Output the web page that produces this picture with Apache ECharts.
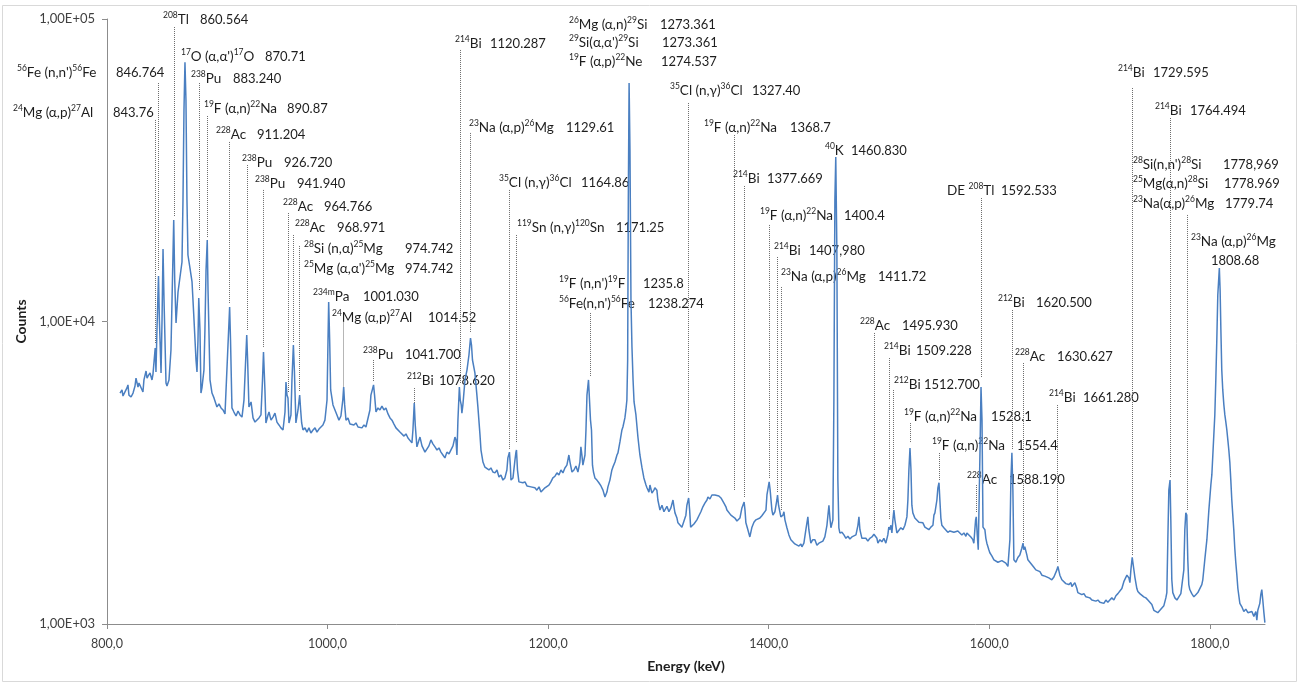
<!DOCTYPE html>
<html>
<head>
<meta charset="utf-8">
<title>Gamma spectrum</title>
<script src="https://cdn.jsdelivr.net/npm/echarts@6/dist/echarts.min.js"></script>
<style>
  html, body { margin: 0; padding: 0; background: #ffffff; }
  #chart { width: 1300px; height: 684px; }
</style>
</head>
<body>
<div id="chart"></div>
<script>
// Measured spectrum: [energy (keV), counts]
const spectrum = [
  [811.8,5800],[813.6,5940],[814.5,5670],[816.3,5850],[818.1,6030],[819.0,6170],[819.9,5710],[821.8,5630],[823.6,5800],[825.4,6120],
  [826.3,6500],[828.1,6070],[829.0,6260],[830.8,6310],[832.6,5850],[833.5,6410],[835.4,6860],[836.3,6500],[837.2,6600],[839.0,6760],
  [840.8,6410],[841.7,6700],[843.7,8170],[844.4,6810],[845.3,9370],[846.7,14140],[847.5,10120],[849.0,6760],[849.9,10120],[850.8,17370],
  [851.7,11780],[853.5,6260],[854.4,6120],[856.2,6410],[858.0,8050],[860.5,21660],[861.4,13720],[862.6,9890],[864.4,12520],[866.2,14030],
  [868.0,15730],[868.9,25220],[869.8,50030],[870.7,72000],[871.6,54000],[872.5,25220],[873.4,16590],[875.2,15030],[877.1,13510],[878.9,10120],
  [880.7,7460],[881.6,6810],[882.5,8690],[883.2,11960],[884.3,9370],[885.2,5800],[886.1,6030],[887.9,6910],[888.8,9370],[889.8,14800],
  [890.9,18600],[891.6,12710],[893.4,6410],[895.2,5800],[897.0,5590],[899.7,5220],[901.5,5340],[903.4,5180],[905.2,5100],[907.0,4950],
  [908.8,5020],[911.2,11170],[912.0,8690],[913.3,5180],[915.1,5020],[917.0,4870],[918.8,5060],[920.6,4910],[922.4,4830],[924.2,5500],
  [926.7,9020],[927.5,7460],[928.7,5220],[930.6,5420],[932.4,4800],[934.2,4650],[936.0,4620],[937.8,4800],[939.6,4910],[941.0,6410],
  [941.9,7930],[943.2,5940],[944.1,4620],[946.0,4910],[946.9,5020],[948.7,4720],[950.5,4830],[952.3,4980],[954.1,4650],[955.9,4550],
  [957.7,4450],[959.6,4380],[961.4,5020],[962.3,6310],[963.2,5710],[964.1,5590],[965.0,4620],[966.8,4910],[967.7,6410],[969.0,8360],
  [969.9,6910],[971.3,4620],[973.2,5100],[974.7,5710],[975.6,5100],[976.5,4620],[977.7,4380],[979.5,4450],[981.3,4310],[983.1,4450],
  [984.9,4280],[986.8,4380],[988.6,4450],[990.4,4310],[992.2,4410],[994.0,4450],[995.8,4550],[997.6,4720],[999.5,5500],[1000.4,8690],
  [1001.0,11600],[1001.9,8690],[1002.8,5940],[1004.9,5300],[1006.7,5100],[1008.5,4910],[1010.3,4720],[1012.1,4870],[1013.8,5500],[1014.6,6070],
  [1015.5,5300],[1016.7,4720],[1018.5,4800],[1020.3,4580],[1022.1,4650],[1023.9,4550],[1025.7,4620],[1027.6,4480],[1029.4,4510],[1031.2,4450],
  [1033.0,4550],[1034.8,4480],[1036.6,4450],[1038.4,5100],[1039.3,5710],[1041.7,6170],[1042.6,5710],[1043.9,5020],[1045.7,5180],[1047.5,5100],
  [1049.3,5250],[1051.1,5100],[1052.9,5180],[1054.8,4950],[1056.6,4800],[1058.4,4720],[1060.2,4580],[1062.0,4450],[1063.8,4450],[1065.6,4310],
  [1067.4,4280],[1069.3,4180],[1071.1,4250],[1072.9,4120],[1074.7,4060],[1076.5,3970],[1077.4,4380],[1078.6,5380],[1079.5,4550],[1081.0,3850],
  [1082.9,4060],[1083.8,4150],[1085.6,3880],[1086.5,3820],[1088.3,3700],[1090.1,3680],[1091.9,3880],[1093.7,4060],[1095.5,3940],[1097.4,3850],
  [1099.2,3760],[1101.0,3820],[1102.8,3700],[1104.6,3620],[1106.4,3540],[1108.2,3700],[1110.1,3650],[1111.9,3700],[1113.7,3880],[1115.5,4150],
  [1116.4,4060],[1117.3,3620],[1118.2,4720],[1119.5,6070],[1120.3,5500],[1121.2,5300],[1121.8,4980],[1122.7,5300],[1124.6,6410],[1126.4,6910],
  [1128.2,7750],[1129.6,8820],[1130.5,8360],[1131.4,7460],[1133.6,6760],[1135.4,5710],[1136.3,5220],[1138.2,4220],[1139.1,3760],[1140.9,3430],
  [1142.7,3300],[1144.5,3350],[1146.3,3230],[1148.1,3280],[1149.9,3180],[1151.8,3160],[1153.6,3230],[1155.4,3060],[1157.2,3110],[1159.0,2990],
  [1160.8,3040],[1162.6,3230],[1163.5,3540],[1164.9,3700],[1165.7,3350],[1166.3,2990],[1167.2,2950],[1168.1,3040],[1169.9,3480],[1170.8,3700],
  [1171.3,3760],[1172.2,3230],[1173.5,2950],[1175.3,2990],[1177.1,2930],[1179.0,2950],[1180.8,2860],[1182.6,2900],[1184.4,2840],[1186.2,2880],
  [1188.0,2820],[1189.8,2770],[1191.7,2840],[1193.5,2730],[1195.3,2770],[1197.1,2820],[1198.9,2860],[1200.7,2880],[1202.5,2950],[1204.3,3040],
  [1206.2,3080],[1208.0,3160],[1209.8,3110],[1211.6,3230],[1213.4,3160],[1215.2,3280],[1217.0,3350],[1217.9,3480],[1218.8,3620],[1219.8,3430],
  [1221.6,3180],[1223.4,3230],[1225.2,3330],[1227.0,3180],[1228.8,3430],[1229.7,3850],[1230.6,3620],[1231.5,3350],[1233.4,3620],[1234.3,4380],
  [1235.2,5710],[1236.6,6410],[1237.5,5500],[1238.4,4720],[1239.3,4380],[1240.2,3350],[1241.1,3180],[1242.4,3040],[1244.2,2990],[1246.0,2930],
  [1247.9,2860],[1249.7,2770],[1251.5,2630],[1253.3,2730],[1254.2,2840],[1256.0,2990],[1257.8,3230],[1258.7,3300],[1260.6,3430],[1262.4,3620],
  [1263.3,3680],[1265.1,4000],[1266.9,4380],[1267.8,4480],[1269.6,4800],[1270.5,5100],[1271.4,5500],[1272.1,7460],[1272.7,25220],[1273.4,61400],
  [1274.2,36900],[1275.1,11780],[1276.0,8240],[1277.0,6410],[1277.9,5420],[1279.6,4910],[1281.4,4150],[1283.2,3620],[1285.0,3300],[1286.8,3040],
  [1288.7,2880],[1289.6,2820],[1291.4,2730],[1292.3,2880],[1294.1,2710],[1295.9,2770],[1296.8,2820],[1298.6,2770],[1299.5,2570],[1301.4,2380],
  [1303.2,2470],[1305.0,2350],[1305.9,2380],[1307.7,2450],[1309.5,2350],[1311.3,2420],[1313.2,2570],[1314.1,2440],[1315.0,2330],[1316.8,2240],
  [1317.7,2160],[1319.5,2170],[1321.3,2090],[1323.1,2120],[1324.9,2290],[1325.8,2470],[1327.4,2610],[1328.3,2380],[1329.2,2090],[1330.4,2090],
  [1332.2,2140],[1334.0,2170],[1334.9,2210],[1336.7,2280],[1338.5,2350],[1340.3,2440],[1342.1,2510],[1344.0,2570],[1344.9,2630],[1346.7,2590],
  [1348.5,2670],[1350.3,2630],[1351.2,2670],[1353.0,2690],[1354.8,2650],[1356.7,2610],[1357.6,2630],[1359.4,2510],[1361.2,2440],[1362.1,2380],
  [1363.9,2350],[1365.7,2290],[1367.5,2260],[1369.3,2240],[1371.2,2190],[1372.1,2210],[1373.9,2240],[1375.7,2420],[1377.7,2530],[1378.5,2380],
  [1379.3,2160],[1381.1,2050],[1382.9,1940],[1384.8,2090],[1386.6,2170],[1388.4,2210],[1390.2,2240],[1392.0,2240],[1393.8,2280],[1395.6,2310],
  [1397.5,2380],[1398.4,2670],[1400.4,2950],[1401.3,2770],[1402.9,2380],[1403.8,2290],[1405.6,2350],[1407.4,2570],[1408.0,2670],[1408.9,2470],
  [1411.0,2260],[1412.9,2290],[1413.8,2350],[1414.7,2210],[1416.5,2080],[1418.3,1970],[1420.1,1900],[1421.9,1880],[1423.7,1840],[1425.5,1850],
  [1427.4,1810],[1429.2,1840],[1430.1,1800],[1431.9,1850],[1433.7,2050],[1435.5,2260],[1436.4,2050],[1438.2,1850],[1440.0,1900],[1441.9,1900],
  [1443.7,1820],[1445.5,1850],[1447.3,1840],[1449.1,1880],[1450.9,1940],[1452.8,2120],[1454.6,2470],[1455.5,2240],[1456.4,2080],[1458.2,2210],
  [1459.1,5500],[1460.0,25220],[1460.8,35000],[1461.8,17240],[1462.7,2990],[1463.6,2080],[1464.5,2000],[1466.4,2010],[1468.2,1970],[1470.0,1920],
  [1471.8,1950],[1473.6,1910],[1475.4,1940],[1477.2,1920],[1479.1,1970],[1480.9,2120],[1481.8,2260],[1482.7,2050],[1484.5,1920],[1486.3,1900],
  [1488.1,1920],[1489.9,1880],[1491.7,1920],[1493.6,1940],[1495.4,1980],[1496.3,2000],[1498.1,1920],[1499.0,1850],[1500.8,1900],[1502.6,1870],
  [1504.4,1920],[1506.2,1850],[1508.0,1970],[1508.9,2090],[1509.9,2050],[1510.8,2120],[1511.7,2000],[1512.6,2210],[1513.5,2380],[1514.4,2210],
  [1516.2,2000],[1518.0,2010],[1519.8,2080],[1521.7,2050],[1523.5,2120],[1525.3,2260],[1526.2,2570],[1527.1,3230],[1528.1,3820],[1529.0,3230],
  [1529.8,2470],[1530.7,2330],[1532.5,2240],[1534.3,2210],[1536.2,2170],[1538.0,2140],[1539.8,2160],[1541.6,2090],[1543.4,2080],[1545.2,2050],
  [1547.0,2090],[1548.9,2120],[1549.8,2290],[1550.7,2330],[1552.5,2570],[1553.4,2820],[1554.4,2930],[1555.2,2570],[1556.1,2240],[1557.0,2120],
  [1558.8,2080],[1560.6,2050],[1562.4,2010],[1564.3,2030],[1566.1,2000],[1567.9,2010],[1569.7,1980],[1571.5,2030],[1573.3,2010],[1575.1,1970],
  [1577.0,2000],[1578.8,1950],[1579.7,2000],[1581.5,1970],[1583.3,1940],[1585.1,1900],[1586.0,1850],[1586.9,2050],[1587.6,2210],[1588.2,2260],
  [1589.1,1970],[1590.0,1760],[1591.6,3760],[1592.5,6070],[1593.4,4720],[1594.3,2090],[1596.0,2050],[1596.9,1920],[1597.8,1850],[1599.6,1760],
  [1600.5,1720],[1602.3,1680],[1604.2,1630],[1606.0,1650],[1607.8,1600],[1609.6,1590],[1611.4,1620],[1613.2,1630],[1615.0,1590],[1616.9,1550],
  [1617.8,1540],[1618.7,1900],[1619.6,2990],[1620.5,3680],[1621.4,2770],[1622.3,1630],[1624.1,1600],[1625.9,1660],[1627.7,1690],[1629.5,1780],
  [1630.6,1850],[1631.3,1760],[1632.2,1800],[1634.1,1690],[1635.0,1630],[1636.8,1600],[1638.6,1570],[1640.4,1540],[1642.2,1510],[1644.0,1510],
  [1645.9,1490],[1647.7,1450],[1648.6,1470],[1650.4,1440],[1652.2,1460],[1654.0,1420],[1654.9,1420],[1656.7,1400],[1658.6,1430],[1659.5,1430],
  [1661.3,1510],[1662.2,1550],[1664.0,1450],[1665.8,1400],[1667.6,1390],[1669.4,1360],[1670.3,1380],[1672.1,1350],[1674.0,1370],[1674.9,1330],
  [1676.7,1350],[1677.6,1370],[1679.4,1310],[1680.3,1270],[1682.1,1270],[1683.9,1250],[1685.8,1260],[1687.6,1230],[1689.4,1240],[1691.2,1220],
  [1693.0,1200],[1694.8,1210],[1696.6,1190],[1698.5,1200],[1700.3,1180],[1702.1,1190],[1703.9,1170],[1705.7,1200],[1707.5,1180],[1709.3,1200],
  [1711.1,1220],[1713.0,1200],[1714.8,1240],[1716.6,1260],[1718.4,1270],[1720.2,1310],[1722.0,1380],[1722.9,1400],[1724.8,1450],[1725.7,1470],
  [1726.6,1420],[1727.5,1370],[1728.4,1510],[1729.6,1660],[1730.5,1570],[1732.0,1430],[1733.8,1310],[1734.7,1280],[1736.5,1260],[1738.3,1250],
  [1740.1,1230],[1742.0,1220],[1743.8,1200],[1745.6,1200],[1747.4,1160],[1749.2,1110],[1751.0,1100],[1752.8,1090],[1754.7,1110],[1756.5,1130],
  [1758.3,1150],[1760.1,1220],[1761.0,1270],[1761.9,1900],[1762.8,2770],[1763.9,2990],[1764.6,2210],[1765.5,1400],[1766.4,1270],[1768.3,1220],
  [1770.1,1200],[1771.9,1230],[1773.7,1260],[1774.6,1270],[1776.4,1510],[1777.3,2050],[1778.2,2330],[1779.1,2290],[1780.0,1630],[1780.9,1350],
  [1781.8,1300],[1783.6,1260],[1785.5,1230],[1787.3,1250],[1789.1,1270],[1790.9,1280],[1792.7,1350],[1793.6,1400],[1795.4,1630],[1797.3,1900],
  [1799.1,2380],[1800.9,2880],[1801.8,3110],[1802.7,3620],[1803.6,4220],[1804.5,4910],[1805.4,6410],[1806.3,8690],[1807.2,12230],[1808.6,15030],
  [1809.3,12710],[1810.0,9370],[1810.8,6910],[1811.7,5940],[1812.7,5300],[1813.6,4910],[1814.5,4650],[1815.4,4380],[1816.3,4060],[1817.2,3760],
  [1818.1,3430],[1819.0,2990],[1819.9,2570],[1820.8,2290],[1821.7,2050],[1822.6,1780],[1823.5,1600],[1824.5,1450],[1825.4,1310],[1827.2,1170],
  [1829.0,1140],[1830.8,1100],[1832.6,1120],[1834.5,1090],[1836.3,1090],[1838.1,1100],[1839.9,1060],[1841.7,1100],[1842.6,1030],[1843.5,1110],
  [1845.3,1170],[1846.2,1250],[1847.1,1300],[1848.0,1200],[1849.0,1090],[1849.9,1010]
];

const xTicks = [800, 1000, 1200, 1400, 1600, 1800];

// Identified gamma lines: name (^...^ marks a superscript) and energy label (keV)
const lineNames = [
  '^24^Mg (α,p)^27^Al', "^56^Fe (n,n')^56^Fe", '^208^Tl', "^17^O (α,α')^17^O", '^238^Pu',
  '^19^F (α,n)^22^Na', '^228^Ac', '^238^Pu', '^238^Pu', '^228^Ac',
  '^228^Ac', '^28^Si (n,α)^25^Mg', "^25^Mg (α,α')^25^Mg", '^234m^Pa', '^24^Mg (α,p)^27^Al',
  '^238^Pu', '^212^Bi', '^214^Bi', '^23^Na (α,p)^26^Mg', '^35^Cl (n,γ)^36^Cl',
  '^119^Sn (n,γ)^120^Sn', "^19^F (n,n')^19^F", "^56^Fe(n,n')^56^Fe", '^26^Mg (α,n)^29^Si', "^29^Si(α,α')^29^Si",
  '^19^F (α,p)^22^Ne', '^35^Cl (n,γ)^36^Cl', '^19^F (α,n)^22^Na', '^214^Bi', '^40^K',
  '^19^F (α,n)^22^Na', '^214^Bi', '^23^Na (α,p)^26^Mg', '^228^Ac', '^214^Bi',
  '^212^Bi', '^19^F (α,n)^22^Na', '^19^F (α,n)^22^Na', '^228^Ac', 'DE ^208^Tl',
  '^212^Bi', '^228^Ac', '^214^Bi', '^214^Bi', '^214^Bi',
  "^28^Si(n,n')^28^Si", '^25^Mg(α,n)^28^Si', '^23^Na(α,p)^26^Mg', '^23^Na (α,p)^26^Mg'
];
const lineEnergies = [
  '843.76', '846.764', '860.564', '870.71', '883.240',
  '890.87', '911.204', '926.720', '941.940', '964.766',
  '968.971', '974.742', '974.742', '1001.030', '1014.52',
  '1041.700', '1078.620', '1120.287', '1129.61', '1164.86',
  '1171.25', '1235.8', '1238.274', '1273.361', '1273.361',
  '1274.537', '1327.40', '1368.7', '1377.669', '1460.830',
  '1400.4', '1407,980', '1411.72', '1495.930', '1509.228',
  '1512.700', '1528.1', '1554.4', '1588.190', '1592.533',
  '1620.500', '1630.627', '1661.280', '1729.595', '1764.494',
  '1778,969', '1778.969', '1779.74', '1808.68'
];

// Label placement in axis units: [name keV, name counts, number keV, number counts]
const labelAt = [
  [714.8,48920,805.4,48920],[718.4,66300,808.2,66300],[850.8,99240,884.3,99240],[867.1,74880,943.2,74880],[876.2,63330,914.2,63330],
  [887.9,50410,963.2,50410],[898.8,41350,936.0,41350],[922.4,33410,960.5,33410],[934.2,28480,972.3,28480],[959.6,23900,996.7,23900],
  [970.4,20380,1008.5,20380],[978.6,17370,1070.2,17370],[978.6,14920,1070.2,14920],[986.8,12050,1032.1,12050],[1004.0,10270,1091.0,10270],
  [1032.1,7749,1070.2,7749],[1072.0,6359,1101.0,6359],[1115.5,82670,1147.2,82670],[1128.2,43620,1216.1,43620],[1155.4,28710,1229.7,28710],
  [1171.7,20380,1261.5,20380],[1209.8,13300,1285.9,13300],[1209.8,11420,1290.5,11420],[1218.8,95540,1301.4,95540],[1218.8,83300,1303.2,83300],
  [1218.8,72090,1302.3,72090],[1310.4,57810,1384.8,57810],[1341.2,43620,1419.2,43620],[1367.5,29590,1398.4,29590],[1450.9,36610,1474.5,36610],
  [1392.0,22330,1468.2,22330],[1404.7,17100,1436.4,17100],[1411.0,14030,1499.0,14030],[1482.7,9663,1520.7,9663],[1504.4,7988,1533.4,7988],
  [1513.5,6166,1540.7,6166],[1522.6,4834,1601.4,4834],[1548.0,3877,1625.0,3877],[1579.7,2992,1617.8,2992],[1561.5,27000,1610.5,27000],
  [1607.8,11510,1642.2,11510],[1623.2,7630,1661.3,7630],[1654.0,5586,1684.8,5586],[1716.6,66300,1748.3,66300],[1750.1,49650,1781.8,49650],
  [1730.2,32910,1811.8,32910],[1730.2,28480,1812.7,28480],[1730.2,24460,1813.6,24460],[1782.7,18320,1800.9,15850]
];

// Dotted leader from under a label down to its peak: [top counts, bottom counts]
const leaderSpan = [
  [46370,8490],[61430,14800],[94090,22160],null,[61430,12710],
  [47790,18880],[39220,11510],[32910,9374],[27220,8174],[22840,5802],
  [19320,8555],[17770,5846],null,null,[10000,6073],
  [7459,6308],[6027,5376],[79000,6214],[42010,9163],[27220,3760],
  [19320,3966],null,[10670,6554],null,null,
  null,[52770,2731],[41350,2773],[28050,2609],null,
  [20850,3038],[16340,2731],[13000,2381],[9163,2045],[7573,2207],
  [5936,2381],[4617,3966],[3675,2992],[2881,2345],[25600,6554],
  [10914,3760],[7291,1866],[5295,1591],[59140,1690],[47070,3061],
  null,null,[22500,2381],null
];

const FONT = 'Lato, "Open Sans", sans-serif';
const TEXT_COLOR = '#1e1e1e';

function toNumber(s) { return parseFloat(s.replace(',', '.')); }

function richName(s) {
  return s.split('^').map((part, i) => {
    if (!part) return '';
    return i % 2 ? '{s|' + part + '}' : '{n|' + part + '}';
  }).join('');
}

const leaderData = [];
leaderSpan.forEach((span, i) => {
  if (!span) return;
  const e = toNumber(lineEnergies[i]);
  leaderData.push([{ coord: [e, span[0]] }, { coord: [e, span[1]] }]);
});

const chart = echarts.init(document.getElementById('chart'), null, { renderer: 'canvas' });

chart.setOption({
  animation: false,
  backgroundColor: '#ffffff',
  grid: { left: 107, right: 35, top: 19, bottom: 60 },
  xAxis: {
    type: 'value',
    min: 800,
    max: 1850,
    name: 'Energy (keV)',
    nameLocation: 'middle',
    nameGap: 35,
    nameTextStyle: { fontFamily: FONT, fontSize: 14, fontWeight: 'bold', color: TEXT_COLOR },
    axisLine: { show: true, lineStyle: { color: '#8c8c8c', width: 1 } },
    axisTick: { show: true, length: 5, lineStyle: { color: '#8c8c8c' }, customValues: xTicks },
    axisLabel: {
      customValues: xTicks,
      formatter: v => v.toFixed(1).replace('.', ','),
      fontFamily: FONT, fontSize: 12.5, color: '#404040', margin: 13
    },
    splitLine: { show: false }
  },
  yAxis: {
    type: 'log',
    logBase: 10,
    min: 1000,
    max: 100000,
    name: 'Counts',
    nameLocation: 'middle',
    nameGap: 66,
    nameRotate: 90,
    nameTextStyle: { fontFamily: FONT, fontSize: 14, fontWeight: 'bold', color: TEXT_COLOR },
    axisLine: { show: true, lineStyle: { color: '#8c8c8c', width: 1 } },
    axisTick: { show: true, length: 5, lineStyle: { color: '#8c8c8c' } },
    axisLabel: {
      formatter: v => '1,00E+0' + Math.round(Math.log10(v)),
      fontFamily: FONT, fontSize: 13, color: '#404040', margin: 12
    },
    splitLine: { show: false },
    minorTick: { show: false }
  },
  series: [{
    type: 'line',
    data: spectrum,
    showSymbol: false,
    symbol: 'none',
    lineStyle: { color: '#4a7fc1', width: 1.5 },
    silent: true,
    markLine: {
      silent: true,
      symbol: ['none', 'none'],
      label: { show: false },
      lineStyle: { color: '#6e6e6e', type: [1, 1], width: 1 },
      data: leaderData
    }
  }]
});

// Text annotations placed through the axis scales
const graphics = [{
  type: 'rect',
  shape: { x: 2.5, y: 5.5, width: 1294, height: 676 },
  style: { fill: 'none', stroke: '#d9d9d9', lineWidth: 1 },
  silent: true
}];

lineNames.forEach((name, i) => {
  const at = labelAt[i];
  const p1 = chart.convertToPixel({ gridIndex: 0 }, [at[0], at[1]]);
  const p2 = chart.convertToPixel({ gridIndex: 0 }, [at[2], at[3]]);
  graphics.push({
    type: 'text',
    x: Math.round(p1[0]), y: Math.round(p1[1]),
    silent: true,
    style: {
      text: richName(name),
      align: 'left',
      verticalAlign: 'middle',
      rich: {
        n: { fontFamily: FONT, fontSize: 13.5, fill: TEXT_COLOR, lineHeight: 18, verticalAlign: 'middle' },
        s: { fontFamily: FONT, fontSize: 8.5, fill: TEXT_COLOR, lineHeight: 10, verticalAlign: 'top' }
      }
    }
  });
  graphics.push({
    type: 'text',
    x: Math.round(p2[0]), y: Math.round(p2[1]),
    silent: true,
    style: {
      text: lineEnergies[i],
      font: '13px ' + FONT,
      fill: TEXT_COLOR,
      align: 'left',
      verticalAlign: 'middle'
    }
  });
});

chart.setOption({ graphic: graphics });
</script>
</body>
</html>
